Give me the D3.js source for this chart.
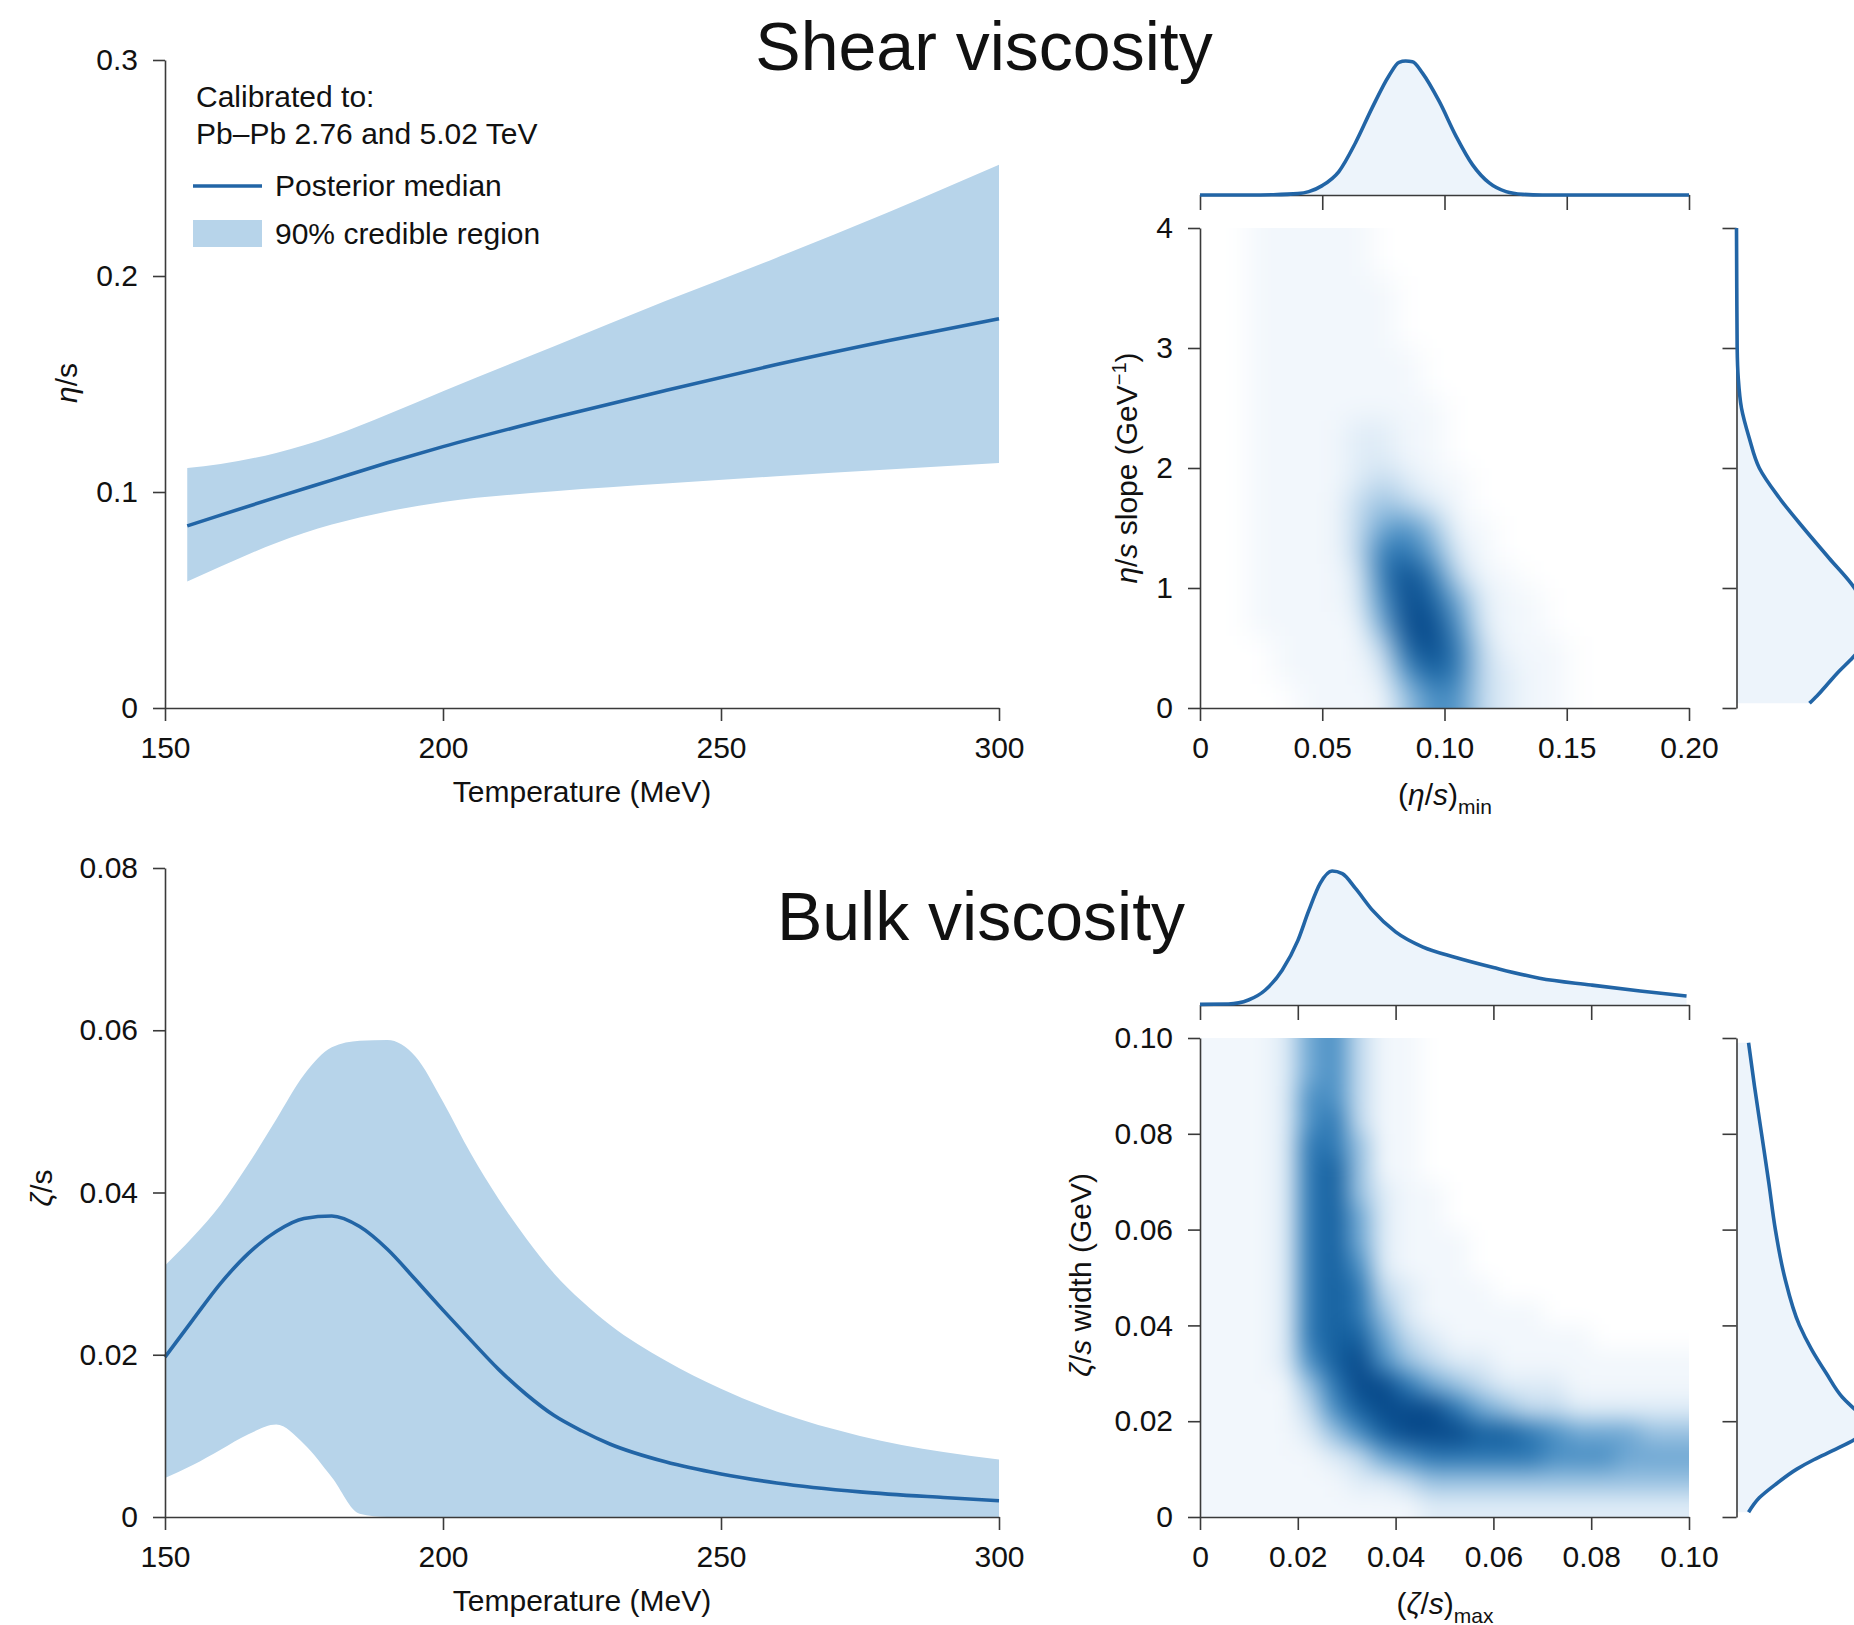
<!DOCTYPE html>
<html>
<head>
<meta charset="utf-8">
<script src="https://cdn.jsdelivr.net/npm/d3@7"></script>
<style>
  body { margin: 0; background: #fff; }
  text { font-family: "Liberation Sans", Arial, Helvetica, sans-serif; fill: #111; }
</style>
</head>
<body>
<div id="chart"></div>
<script>
// ---------------- data ----------------
// shear viscosity eta/s vs temperature (MeV)
var shearT      = [154, 160, 170, 180, 190, 200, 220, 240, 260, 280, 300];
var shearMedian = [0.0843, 0.0893, 0.0975, 0.1055, 0.1135, 0.1210, 0.1345, 0.1470, 0.1590, 0.1700, 0.1802];
var shearLow    = [0.0586, 0.0655, 0.0764, 0.0849, 0.0910, 0.0954, 0.1003, 0.1039, 0.1073, 0.1104, 0.1134];
var shearHigh   = [0.1111, 0.1130, 0.1181, 0.1258, 0.1359, 0.1467, 0.1675, 0.1884, 0.2085, 0.2294, 0.2515];

// bulk viscosity zeta/s vs temperature (MeV)
var bulkT      = [150, 155, 160, 165, 170, 175, 180, 185, 190, 195, 200, 205, 210, 215, 220, 225, 230, 240, 250, 260, 275, 290, 300];
var bulkMedian = [0.0197, 0.0243, 0.0288, 0.0325, 0.0352, 0.0368, 0.0371, 0.0358, 0.0330, 0.0293, 0.0255, 0.0218, 0.0182, 0.0151, 0.0125, 0.0106, 0.0090, 0.0068, 0.0053, 0.0042, 0.0031, 0.0024, 0.0020];
var bulkLow    = [0.0048, 0.0064, 0.0083, 0.0102, 0.0114, 0.0090, 0.0049, 0.0004, 0, 0, 0, 0, 0, 0, 0, 0, 0, 0, 0, 0, 0, 0, 0];
var bulkHigh   = [0.0310, 0.0345, 0.0385, 0.0435, 0.0490, 0.0545, 0.0579, 0.0587, 0.0588, 0.0568, 0.0512, 0.0448, 0.0392, 0.0343, 0.0300, 0.0266, 0.0237, 0.0193, 0.0158, 0.0130, 0.0100, 0.0080, 0.0071];

// marginal densities (scaled so the peak is 1)
var etaMinX    = [0, 0.02, 0.03, 0.04, 0.0445, 0.05, 0.0568, 0.0636, 0.0704, 0.0773, 0.0814, 0.0841, 0.0869, 0.091, 0.0978, 0.1047, 0.1115, 0.1183, 0.1252, 0.132, 0.14, 0.2];
var etaMinDens = [0, 0, 0.002, 0.01, 0.025, 0.07, 0.175, 0.39, 0.65, 0.89, 0.99, 1.0, 0.995, 0.91, 0.70, 0.44, 0.225, 0.09, 0.025, 0.005, 0, 0];

var slopeY    = [0.04, 0.1, 0.2, 0.3, 0.4, 0.5, 0.65, 0.8, 1.0, 1.25, 1.5, 1.75, 2.0, 2.25, 2.5, 2.75, 3.0, 3.5, 4.0];
var slopeDens = [0.545, 0.60, 0.68, 0.76, 0.85, 0.93, 1.0, 0.97, 0.88, 0.69, 0.50, 0.32, 0.17, 0.095, 0.037, 0.013, 0.005, 0.002, 0];

var zetaMaxX    = [0, 0.0058, 0.0099, 0.0133, 0.0168, 0.02, 0.0222, 0.0246, 0.027, 0.0291, 0.0318, 0.0352, 0.04, 0.0455, 0.0523, 0.06, 0.0694, 0.08, 0.09, 0.0995];
var zetaMaxDens = [0.005, 0.007, 0.037, 0.11, 0.26, 0.48, 0.70, 0.91, 1.0, 0.98, 0.87, 0.71, 0.546, 0.434, 0.355, 0.28, 0.2, 0.149, 0.104, 0.067];

var widthY    = [0.001, 0.004, 0.007, 0.01, 0.012, 0.014, 0.0165, 0.019, 0.022, 0.025, 0.03, 0.035, 0.04, 0.05, 0.06, 0.07, 0.08, 0.09, 0.099];
var widthDens = [0.09, 0.17, 0.30, 0.45, 0.58, 0.73, 0.90, 1.0, 0.90, 0.79, 0.67, 0.56, 0.47, 0.36, 0.29, 0.24, 0.187, 0.134, 0.09];

// joint posterior density, level 0-9, top row first
// shear: columns of 0.01 in (eta/s)min, rows of 0.2 in slope
var shearGrid = [
  "00111110000000000000",
  "00111110000000000000",
  "00111111000000000000",
  "00111111000000000000",
  "00111111000000000000",
  "00111111100000000000",
  "00111111100000000000",
  "00111111110000000000",
  "00111122110000000000",
  "00111122110000000000",
  "00111123211000000000",
  "00111134321000000000",
  "00111135641100000000",
  "00111137752100000000",
  "00111127973110000000",
  "00111126985211000000",
  "00111115996211000000",
  "00011113897311100000",
  "00011112687321100000",
  "00001111466321100000"
];
// bulk: columns of 0.005 in (zeta/s)max, rows of 0.005 in width
var bulkGrid = [
  "11125631100000000000",
  "11125631100000000000",
  "11126631100000000000",
  "11126731100000000000",
  "11127741100000000000",
  "11127841100000000000",
  "11127842110000000000",
  "11127852110000000000",
  "11127852111000000000",
  "11127862111000000000",
  "11127873211100000000",
  "11127874211111000000",
  "11127885321111110000",
  "11126896432211111111",
  "11114799754322211111",
  "11113689997543322222",
  "11112468999887655544",
  "11111235677777666555",
  "11111122344444444444",
  "11111111122222222222"
];

// ticks
var tempTicks  = [150, 200, 250, 300];
var tempLabels = ["150", "200", "250", "300"];
var etaTicks   = [0, 0.1, 0.2, 0.3];
var etaLabels  = ["0", "0.1", "0.2", "0.3"];
var zetaTicks  = [0, 0.02, 0.04, 0.06, 0.08];
var zetaLabels = ["0", "0.02", "0.04", "0.06", "0.08"];
var etaMinTicks  = [0, 0.05, 0.1, 0.15, 0.2];
var etaMinLabels = ["0", "0.05", "0.10", "0.15", "0.20"];
var slopeTicks   = [0, 1, 2, 3, 4];
var slopeLabels  = ["0", "1", "2", "3", "4"];
var tenthTicks   = [0, 0.02, 0.04, 0.06, 0.08, 0.1];
var tenthLabels  = ["0", "0.02", "0.04", "0.06", "0.08", "0.10"];

// ---------------- drawing ----------------
var FONT = '"Liberation Sans", Arial, Helvetica, sans-serif';
var AX = "#3a3a3a", LINE = "#2265a6", BAND = "#b7d4ea", MFILL = "#edf4fb";
var heat = d3.scaleLinear()
  .domain([0, 1, 2, 3, 4, 5, 6, 7, 8, 9])
  .range(["#ffffff", "#f2f7fc", "#dfecf7", "#c2daee", "#98c1e1", "#6ea7d3", "#4a8fc4", "#2c77b3", "#15609f", "#084a8b"]);

var svg = d3.select("#chart").append("svg")
  .attr("width", 1854).attr("height", 1625);
svg.append("rect").attr("width", 1854).attr("height", 1625).attr("fill", "#fff");
var defs = svg.append("defs");

// scales
var xT      = d3.scaleLinear().domain([150, 300]).range([165, 999]);
var yEta    = d3.scaleLinear().domain([0, 0.3]).range([708, 60]);
var yZeta   = d3.scaleLinear().domain([0, 0.08]).range([1517, 868]);
var xEtaMin = d3.scaleLinear().domain([0, 0.2]).range([1200, 1689]);
var ySlope  = d3.scaleLinear().domain([0, 4]).range([708, 228]);
var xZetaMax = d3.scaleLinear().domain([0, 0.1]).range([1200, 1689]);
var yWidth  = d3.scaleLinear().domain([0, 0.1]).range([1517, 1038]);
var mTopShear = d3.scaleLinear().domain([0, 1]).range([195, 61]);
var mTopBulk  = d3.scaleLinear().domain([0, 1]).range([1005, 871]);
var mRight    = d3.scaleLinear().domain([0, 1]).range([1736.5, 1870.5]);

function styleAxis(g) {
  g.attr("font-family", FONT).attr("font-size", 30);
  g.select(".domain").attr("stroke", AX).attr("stroke-width", 1.6);
  g.selectAll(".tick line").attr("stroke", AX).attr("stroke-width", 1.6);
  g.selectAll(".tick text").attr("fill", "#111");
}
function fmt(labels) { return function(d, i) { return labels[i]; }; }

function leftAxis(scale, x, ticks, labels) {
  svg.append("g").attr("transform", "translate(" + x + ",0)")
    .call(d3.axisLeft(scale).tickValues(ticks).tickFormat(fmt(labels)).tickSize(12).tickSizeOuter(0).tickPadding(15))
    .call(styleAxis);
}
function bottomAxis(scale, y, ticks, labels) {
  svg.append("g").attr("transform", "translate(0," + y + ")")
    .call(d3.axisBottom(scale).tickValues(ticks).tickFormat(fmt(labels)).tickSize(13).tickSizeOuter(0).tickPadding(16))
    .call(styleAxis);
}

// band + median panel
function bandPanel(T, lo, hi, med, yScale) {
  var rows = T.map(function(t, i) { return { t: t, lo: lo[i], hi: hi[i], m: med[i] }; });
  svg.append("path").datum(rows)
    .attr("fill", BAND)
    .attr("d", d3.area().curve(d3.curveMonotoneX)
      .x(function(d) { return xT(d.t); })
      .y0(function(d) { return yScale(d.lo); })
      .y1(function(d) { return yScale(d.hi); }));
  svg.append("path").datum(rows)
    .attr("fill", "none").attr("stroke", LINE).attr("stroke-width", 3.6)
    .attr("d", d3.line().curve(d3.curveMonotoneX)
      .x(function(d) { return xT(d.t); })
      .y(function(d) { return yScale(d.m); }));
}

bandPanel(shearT, shearLow, shearHigh, shearMedian, yEta);
leftAxis(yEta, 165, etaTicks, etaLabels);
bottomAxis(xT, 708, tempTicks, tempLabels);

bandPanel(bulkT, bulkLow, bulkHigh, bulkMedian, yZeta);
leftAxis(yZeta, 165, zetaTicks, zetaLabels);
bottomAxis(xT, 1517, tempTicks, tempLabels);

// heatmap: grid cells through the scales, blurred and clipped to the frame
function heatmap(grid, xs, ys, xStep, yStep, yTop, id, blur) {
  var nr = grid.length, nc = grid[0].length, pad = 40;
  var cells = [];
  grid.forEach(function(row, r) {
    row.split("").forEach(function(ch, c) {
      cells.push({ r: r, c: c, v: +ch,
        x0: c * xStep, x1: (c + 1) * xStep,
        y1: yTop - r * yStep, y0: yTop - (r + 1) * yStep });
    });
  });
  var xr = xs.range(), yr = ys.range();
  defs.append("clipPath").attr("id", "clip-" + id).append("rect")
    .attr("x", xr[0]).attr("y", yr[1]).attr("width", xr[1] - xr[0]).attr("height", yr[0] - yr[1]);
  defs.append("filter").attr("id", "blur-" + id)
    .attr("x", "-0.2").attr("y", "-0.2").attr("width", "1.4").attr("height", "1.4")
    .attr("color-interpolation-filters", "sRGB")
    .append("feGaussianBlur").attr("stdDeviation", blur);
  svg.append("g").attr("clip-path", "url(#clip-" + id + ")")
    .append("g").attr("filter", "url(#blur-" + id + ")")
    .selectAll("rect").data(cells).enter().append("rect")
      .attr("x", function(d) { return xs(d.x0) - (d.c === 0 ? pad : 0); })
      .attr("width", function(d) { return xs(d.x1) - xs(d.x0) + 0.6 + (d.c === 0 ? pad : 0) + (d.c === nc - 1 ? pad : 0); })
      .attr("y", function(d) { return ys(d.y1) - (d.r === 0 ? pad : 0); })
      .attr("height", function(d) { return ys(d.y0) - ys(d.y1) + 0.6 + (d.r === 0 ? pad : 0) + (d.r === nr - 1 ? pad : 0); })
      .attr("fill", function(d) { return heat(d.v); });
}

heatmap(shearGrid, xEtaMin, ySlope, 0.01, 0.2, 4, "shear", 14);
leftAxis(ySlope, 1200, slopeTicks, slopeLabels);
bottomAxis(xEtaMin, 708, etaMinTicks, etaMinLabels);

heatmap(bulkGrid, xZetaMax, yWidth, 0.005, 0.005, 0.1, "bulk", 11);
leftAxis(yWidth, 1200, tenthTicks, tenthLabels);
bottomAxis(xZetaMax, 1517, tenthTicks, tenthLabels);

// marginals
function topMarginal(xs, ticks, vals, dens, my) {
  var rows = vals.map(function(v, i) { return { v: v, d: dens[i] }; });
  svg.append("path").datum(rows).attr("fill", MFILL)
    .attr("d", d3.area().curve(d3.curveMonotoneX)
      .x(function(d) { return xs(d.v); }).y0(my(0)).y1(function(d) { return my(d.d); }));
  svg.append("g").attr("transform", "translate(0," + my(0) + ")")
    .call(d3.axisBottom(xs).tickValues(ticks).tickFormat("").tickSize(15).tickSizeOuter(0))
    .call(styleAxis);
  svg.append("path").datum(rows).attr("fill", "none").attr("stroke", LINE).attr("stroke-width", 3.6)
    .attr("d", d3.line().curve(d3.curveMonotoneX)
      .x(function(d) { return xs(d.v); }).y(function(d) { return my(d.d); }));
}
function rightMarginal(ys, ticks, vals, dens) {
  var rows = vals.map(function(v, i) { return { v: v, d: dens[i] }; });
  svg.append("path").datum(rows).attr("fill", MFILL)
    .attr("d", d3.area().curve(d3.curveMonotoneY)
      .y(function(d) { return ys(d.v); }).x0(mRight(0)).x1(function(d) { return mRight(d.d); }));
  svg.append("g").attr("transform", "translate(" + mRight(0) + ",0)")
    .call(d3.axisLeft(ys).tickValues(ticks).tickFormat("").tickSize(14).tickSizeOuter(0))
    .call(styleAxis);
  svg.append("path").datum(rows).attr("fill", "none").attr("stroke", LINE).attr("stroke-width", 3.6)
    .attr("d", d3.line().curve(d3.curveMonotoneY)
      .y(function(d) { return ys(d.v); }).x(function(d) { return mRight(d.d); }));
}

topMarginal(xEtaMin, etaMinTicks, etaMinX, etaMinDens, mTopShear);
rightMarginal(ySlope, slopeTicks, slopeY, slopeDens);
topMarginal(xZetaMax, tenthTicks, zetaMaxX, zetaMaxDens, mTopBulk);
rightMarginal(yWidth, tenthTicks, widthY, widthDens);

// titles
svg.append("text").attr("x", 984).attr("y", 70).attr("text-anchor", "middle")
  .attr("font-size", 68).text("Shear viscosity");
svg.append("text").attr("x", 981).attr("y", 940).attr("text-anchor", "middle")
  .attr("font-size", 68).text("Bulk viscosity");

// axis titles
function label(x, y, rotate, parts) {
  var t = svg.append("text")
    .attr("transform", "translate(" + x + "," + y + ")" + (rotate ? " rotate(-90)" : ""))
    .attr("text-anchor", "middle").attr("dy", "0.35em").attr("font-size", 30);
  parts.forEach(function(p) {
    var s = t.append("tspan").text(p.t);
    if (p.i) s.attr("font-style", "italic");
    if (p.fs) s.attr("font-size", p.fs);
    if (p.dy) s.attr("dy", p.dy);
  });
}
label(582, 791, false, [{ t: "Temperature (MeV)" }]);
label(582, 1600, false, [{ t: "Temperature (MeV)" }]);
label(66, 383, true, [{ t: "\u03b7", i: true }, { t: "/s" }]);
label(41, 1188, true, [{ t: "\u03b6", i: true }, { t: "/s" }]);
label(1126, 468, true, [{ t: "\u03b7", i: true }, { t: "/" }, { t: "s", i: true }, { t: " slope (GeV" },
  { t: "\u22121", fs: 20, dy: -11 }, { t: ")", dy: 11 }]);
label(1080, 1275, true, [{ t: "\u03b6", i: true }, { t: "/" }, { t: "s", i: true }, { t: " width (GeV)" }]);
label(1445, 794, false, [{ t: "(" }, { t: "\u03b7", i: true }, { t: "/" }, { t: "s", i: true }, { t: ")" },
  { t: "min", fs: 21, dy: 9 }]);
label(1445, 1603, false, [{ t: "(" }, { t: "\u03b6", i: true }, { t: "/" }, { t: "s", i: true }, { t: ")" },
  { t: "max", fs: 21, dy: 9 }]);

// legend
var lg = svg.append("g").attr("font-size", 30);
lg.append("text").attr("x", 196).attr("y", 107).text("Calibrated to:");
lg.append("text").attr("x", 196).attr("y", 144).text("Pb\u2013Pb 2.76 and 5.02 TeV");
lg.append("line").attr("x1", 193).attr("x2", 262).attr("y1", 186).attr("y2", 186)
  .attr("stroke", LINE).attr("stroke-width", 3.6);
lg.append("text").attr("x", 275).attr("y", 196).text("Posterior median");
lg.append("rect").attr("x", 193).attr("y", 220).attr("width", 69).attr("height", 27).attr("fill", BAND);
lg.append("text").attr("x", 275).attr("y", 244).text("90% credible region");
</script>
</body>
</html>
